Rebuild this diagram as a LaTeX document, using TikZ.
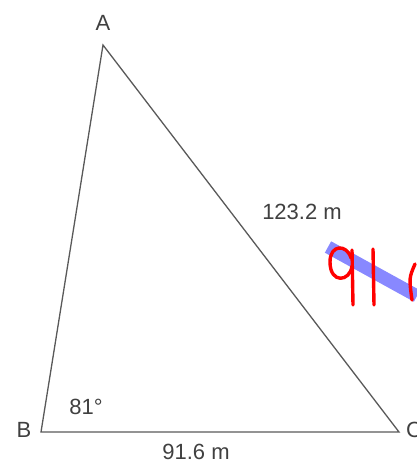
\documentclass[tikz,border=0pt]{standalone}
\usepackage{fontspec}
\setmainfont{Liberation Sans}
\usepackage{tikz}

\begin{document}
\begin{tikzpicture}[x=1pt,y=-1pt,font=\fontsize{22}{24}\selectfont,
  side/.style={draw=black!65,line width=1.3pt},
  lbl/.style={text=black!75,inner sep=0pt},
  pen/.style={red,line width=3.4pt,line cap=round,line join=round}]
 \useasboundingbox (0,0) rectangle (417,468);
 \clip (0,0) rectangle (417,468);
 % vertices
 \coordinate (A) at (103,45);
 \coordinate (B) at (41,432);
 \coordinate (C) at (399,432);
 \draw[side] (A) -- (B) -- (C) -- cycle;
 % labels
 \node[lbl] (a) at (103,23) {A};
 \node[lbl] (b) at (24,430) {B};
 \node[lbl,anchor=west] (c) at (406,430) {C};
 \node[lbl] (ang) at (86,407) {81°};
 \node[lbl] (bc) at (196,452) {91.6 m};
 \node[lbl] (ac) at (302,212) {123.2 m};
 % scribbles
 \draw[blue!55,opacity=0.85,line width=13pt] (328,247) -- (417,296);
 \draw[pen]
   (351,258) .. controls (347,244) and (330,244) .. (330,262)
   .. controls (330,284) and (350,282) .. (352,266);
 \draw[pen] (352,250) -- (353,305);
 \draw[pen] (373,249) -- (374,305);
 \draw[pen] (415,264) .. controls (409,278) .. (412,300);
\end{tikzpicture}
\end{document}
